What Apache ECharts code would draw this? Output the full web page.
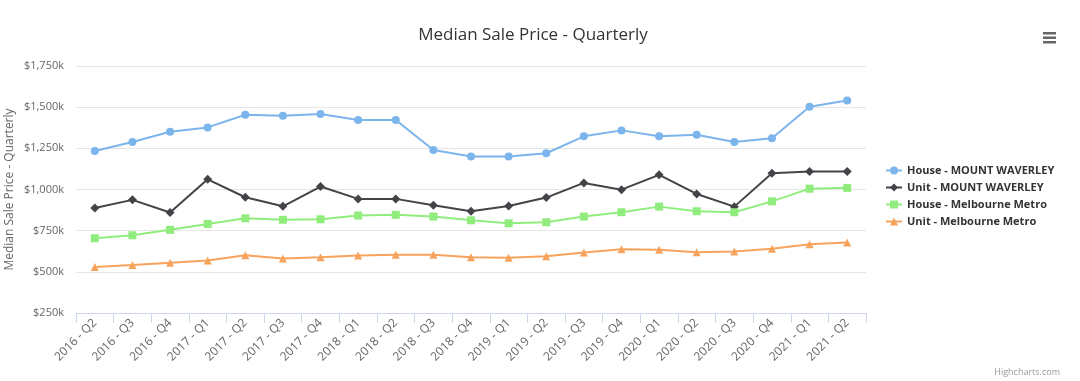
<!DOCTYPE html>
<html>
<head>
<meta charset="utf-8">
<script src="https://cdn.jsdelivr.net/npm/echarts@6/dist/echarts.min.js"></script>
<style>
html,body{margin:0;padding:0;background:#fff;}
#chart{width:1080px;height:381px;}
</style>
</head>
<body>
<div id="chart"></div>
<script>
const categories = ["2016 - Q2","2016 - Q3","2016 - Q4","2017 - Q1","2017 - Q2","2017 - Q3","2017 - Q4","2018 - Q1","2018 - Q2","2018 - Q3","2018 - Q4","2019 - Q1","2019 - Q2","2019 - Q3","2019 - Q4","2020 - Q1","2020 - Q2","2020 - Q3","2020 - Q4","2021 - Q1","2021 - Q2"];
const houseMountWaverley = [1234,1289,1351,1377,1454,1448,1459,1422,1422,1240,1201,1201,1220,1323,1359,1323,1333,1289,1311,1503,1541];
const unitMountWaverley = [888,937,860,1062,953,898,1018,943,943,904,868,900,951,1040,999,1089,973,896,1098,1110,1110];
const houseMelbourneMetro = [704,722,755,791,825,816,819,842,846,836,813,795,801,836,862,896,868,862,928,1005,1010];
const unitMelbourneMetro = [530,542,555,569,601,581,589,599,603,603,589,585,595,617,637,634,619,623,640,668,678];
const seriesNames = ["House - MOUNT WAVERLEY","Unit - MOUNT WAVERLEY","House - Melbourne Metro","Unit - Melbourne Metro"];
const seriesData = [houseMountWaverley, unitMountWaverley, houseMelbourneMetro, unitMelbourneMetro];
const colors = ["#7cb5ec","#434348","#90ed7d","#f7a35c"];
const symbols = ["circle","diamond","rect","triangle"];
const symbolSizes = [8,9,8,8];

const fontFamily = '"Open Sans", "DejaVu Sans", sans-serif';
const chart = echarts.init(document.getElementById('chart'), null, {renderer:'canvas'});
chart.setOption({
  backgroundColor:'#ffffff',
  animation:false,
  textStyle:{fontFamily:fontFamily},
  title:{
    text:'Median Sale Price - Quarterly',
    left:528, top:22, textAlign:'center',
    textStyle:{fontSize:17, fontWeight:'normal', color:'#333333', fontFamily:fontFamily}
  },
  grid:{left:76, right:214, top:66, bottom:68, containLabel:false, outerBoundsMode:'none'},
  legend:{
    orient:'vertical', left:880, top:160,
    itemWidth:16, itemHeight:10, itemGap:6,
    textStyle:{fontSize:11, fontWeight:'bold', color:'#333333', fontFamily:fontFamily},
    data:seriesNames
  },
  xAxis:{
    type:'category', data:categories, boundaryGap:true,
    axisLine:{lineStyle:{color:'#ccd6eb'}},
    axisTick:{show:true, length:10, alignWithLabel:false, lineStyle:{color:'#ccd6eb'}},
    axisLabel:{rotate:45, fontSize:12, color:'#666666', margin:8, interval:0, fontFamily:fontFamily},
    splitLine:{show:false}
  },
  yAxis:{
    type:'value', min:250, max:1750, interval:250,
    name:'Median Sale Price - Quarterly', nameLocation:'middle', nameGap:60, nameMoveOverlap:false,
    nameTextStyle:{fontSize:12, color:'#666666', fontFamily:fontFamily},
    axisLine:{show:false}, axisTick:{show:false},
    axisLabel:{fontSize:11, color:'#666666', margin:12, fontFamily:fontFamily,
      formatter:function(v){return '$' + v.toLocaleString('en-US') + 'k';}},
    splitLine:{lineStyle:{color:'#e6e6e6'}}
  },
  series: seriesNames.map(function(n,i){
    return {
      name:n, type:'line', data:seriesData[i],
      symbol:symbols[i], symbolSize:symbolSizes[i],
      lineStyle:{width:2, color:colors[i]},
      itemStyle:{color:colors[i]},
      showAllSymbol:true
    };
  }),
  graphic:[
    {type:'rect', shape:{x:1043, y:32, width:13, height:2.5}, style:{fill:'#666666'}},
    {type:'rect', shape:{x:1043, y:36.5, width:13, height:2.5}, style:{fill:'#666666'}},
    {type:'rect', shape:{x:1043, y:41, width:13, height:2.5}, style:{fill:'#666666'}},
    {type:'text', right:20, bottom:4, style:{text:'Highcharts.com', fontSize:9, fill:'#999999', fontFamily:fontFamily}}
  ]
});
</script>
</body>
</html>
